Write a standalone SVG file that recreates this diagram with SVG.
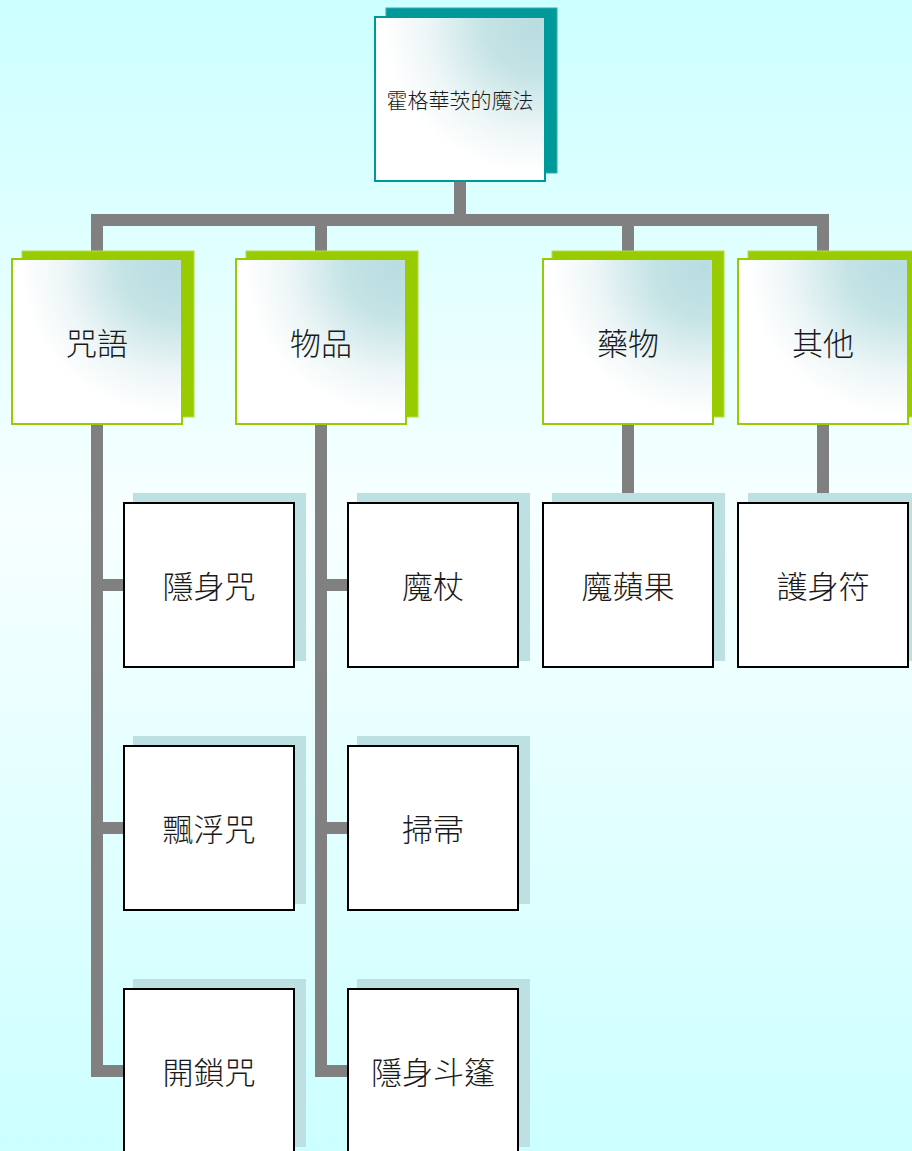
<svg xmlns="http://www.w3.org/2000/svg" width="912" height="1151" viewBox="0 0 912 1151">
<defs>
  <linearGradient id="bg" x1="0" y1="0" x2="0" y2="1">
    <stop offset="0" stop-color="#CCFFFF"/>
    <stop offset="0.45" stop-color="#F7FFFF"/>
    <stop offset="1" stop-color="#CCFFFF"/>
  </linearGradient>
  <radialGradient id="boxfill" cx="0.95" cy="0.05" r="1.0" fx="0.95" fy="0.05">
    <stop offset="0" stop-color="#B8DDE0"/>
    <stop offset="0.3" stop-color="#C4E3E5"/>
    <stop offset="0.65" stop-color="#EEF6F7"/>
    <stop offset="0.9" stop-color="#FFFFFF"/>
  </radialGradient>
  <style>
    .conn { fill: none; stroke: #808080; stroke-width: 12; stroke-linejoin: miter; stroke-linecap: butt; }
    .topshadow { fill: #009999; stroke: #33AEAE; stroke-width: 1; }
    .topbox { fill: url(#boxfill); stroke: #009999; stroke-width: 2; }
    .l2shadow { fill: #99CC00; stroke: #B5DA4A; stroke-width: 1; }
    .l2box { fill: url(#boxfill); stroke: #99CC00; stroke-width: 2; }
    .leafshadow { fill: #BDE0E3; }
    .leafbox { fill: #FFFFFF; stroke: #000000; stroke-width: 2; }
    .t { font-family: "Noto Sans CJK TC", "Noto Sans CJK SC", sans-serif; font-weight: 300; fill: #1A1A1A; text-anchor: middle; dominant-baseline: central; }
    .t1 { font-size: 21px; }
    .t2 { font-size: 31px; }
  </style>
</defs>
<rect x="0" y="0" width="912" height="1151" fill="url(#bg)"/>

<g id="connectors">
  <path class="conn" d="M460 181 V220"/>
  <path class="conn" d="M97 259 V220 H823 V259"/>
  <path class="conn" d="M321 220 V259"/>
  <path class="conn" d="M628 220 V259"/>
  <path class="conn" d="M97 424 V1071 H124"/>
  <path class="conn" d="M97 585 H124"/>
  <path class="conn" d="M97 828 H124"/>
  <path class="conn" d="M321 424 V1071 H348"/>
  <path class="conn" d="M321 585 H348"/>
  <path class="conn" d="M321 828 H348"/>
  <path class="conn" d="M628 424 V494"/>
  <path class="conn" d="M823 424 V494"/>
</g>

<g id="node-root">
  <rect class="topshadow" x="386" y="8" width="171" height="165"/>
  <rect class="topbox" x="375" y="17" width="170" height="164"/>
  <text class="t t1" x="460" y="99">霍格華茨的魔法</text>
</g>

<g id="node-spells">
  <rect class="l2shadow" x="22" y="251" width="172" height="166"/>
  <rect class="l2box" x="12" y="259" width="170" height="165"/>
  <text class="t t2" x="97" y="341">咒語</text>
</g>
<g id="node-items">
  <rect class="l2shadow" x="246" y="251" width="172" height="166"/>
  <rect class="l2box" x="236" y="259" width="170" height="165"/>
  <text class="t t2" x="321" y="341">物品</text>
</g>
<g id="node-potions">
  <rect class="l2shadow" x="552" y="251" width="172" height="166"/>
  <rect class="l2box" x="543" y="259" width="170" height="165"/>
  <text class="t t2" x="628" y="341">藥物</text>
</g>
<g id="node-others">
  <rect class="l2shadow" x="748" y="251" width="172" height="166"/>
  <rect class="l2box" x="738" y="259" width="170" height="165"/>
  <text class="t t2" x="823" y="341">其他</text>
</g>

<g id="leaf-invisibility-spell">
  <rect class="leafshadow" x="133" y="493" width="173" height="168"/>
  <rect class="leafbox" x="124" y="503" width="170" height="164"/>
  <text class="t t2" x="209" y="584">隱身咒</text>
</g>
<g id="leaf-levitation-spell">
  <rect class="leafshadow" x="133" y="736" width="173" height="168"/>
  <rect class="leafbox" x="124" y="746" width="170" height="164"/>
  <text class="t t2" x="209" y="827">飄浮咒</text>
</g>
<g id="leaf-unlock-spell">
  <rect class="leafshadow" x="133" y="979" width="173" height="168"/>
  <rect class="leafbox" x="124" y="989" width="170" height="164"/>
  <text class="t t2" x="209" y="1070">開鎖咒</text>
</g>

<g id="leaf-wand">
  <rect class="leafshadow" x="357" y="493" width="173" height="168"/>
  <rect class="leafbox" x="348" y="503" width="170" height="164"/>
  <text class="t t2" x="433" y="584">魔杖</text>
</g>
<g id="leaf-broom">
  <rect class="leafshadow" x="357" y="736" width="173" height="168"/>
  <rect class="leafbox" x="348" y="746" width="170" height="164"/>
  <text class="t t2" x="433" y="827">掃帚</text>
</g>
<g id="leaf-cloak">
  <rect class="leafshadow" x="357" y="979" width="173" height="168"/>
  <rect class="leafbox" x="348" y="989" width="170" height="164"/>
  <text class="t t2" x="433" y="1070">隱身斗篷</text>
</g>

<g id="leaf-mandrake">
  <rect class="leafshadow" x="552" y="493" width="173" height="168"/>
  <rect class="leafbox" x="543" y="503" width="170" height="164"/>
  <text class="t t2" x="628" y="584">魔蘋果</text>
</g>
<g id="leaf-amulet">
  <rect class="leafshadow" x="748" y="493" width="173" height="168"/>
  <rect class="leafbox" x="738" y="503" width="170" height="164"/>
  <text class="t t2" x="823" y="584">護身符</text>
</g>
</svg>
